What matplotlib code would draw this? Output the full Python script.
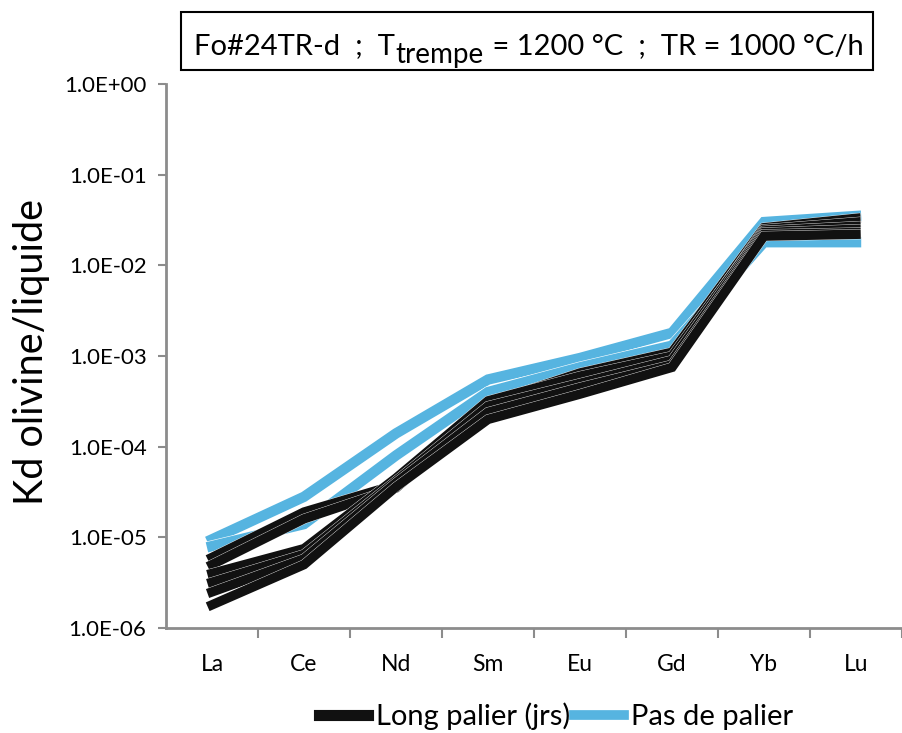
import matplotlib
matplotlib.use("Agg")
import matplotlib.pyplot as plt
import matplotlib.patheffects as pe
from matplotlib.lines import Line2D
from matplotlib.patches import Rectangle

plt.rcParams["font.family"] = ["Lato", "DejaVu Sans"]

# --- data ---
elements = ["La", "Ce", "Nd", "Sm", "Eu", "Gd", "Yb", "Lu"]
ytick_vals = [1e-6, 1e-5, 1e-4, 1e-3, 1e-2, 1e-1, 1e0]
ytick_labels = ["1.0E-06", "1.0E-05", "1.0E-04", "1.0E-03", "1.0E-02", "1.0E-01", "1.0E+00"]

# long palier (black)
long_1 = [6.0e-6, 1.9e-5, 3.8e-5, 3.0e-4, 6.5e-4, 1.1e-3, 2.6e-2, 3.3e-2]
long_2 = [5.0e-6, 1.6e-5, 3.5e-5, 2.6e-4, 5.5e-4, 9.5e-4, 2.5e-2, 3.0e-2]
long_3 = [4.0e-6, 7.5e-6, 4.5e-5, 3.2e-4, 6.0e-4, 1.0e-3, 2.4e-2, 2.7e-2]
long_4 = [3.2e-6, 6.5e-6, 4.2e-5, 2.8e-4, 5.0e-4, 9.0e-4, 2.3e-2, 2.5e-2]
long_5 = [2.5e-6, 5.8e-6, 4.0e-5, 2.4e-4, 4.5e-4, 8.0e-4, 2.2e-2, 2.3e-2]
long_6 = [1.8e-6, 5.0e-6, 3.6e-5, 2.0e-4, 3.8e-4, 7.5e-4, 2.1e-2, 2.2e-2]
# pas de palier (blue)
pas_1 = [9.5e-6, 2.8e-5, 1.4e-4, 5.5e-4, 9.5e-4, 1.8e-3, 3.0e-2, 3.5e-2]
pas_2 = [8.0e-6, 1.4e-5, 8.0e-5, 4.0e-4, 7.5e-4, 1.3e-3, 1.8e-2, 1.8e-2]

BLUE = "#56b4e0"
GREY = "#8c8c8c"

fig = plt.figure(figsize=(9.02, 7.33), dpi=100)
ax = fig.add_axes([166 / 902, 105 / 733, 736 / 902, 544 / 733])

x = list(range(len(elements)))
for ys in [pas_1, pas_2]:
    ax.plot(x, ys, color=BLUE, lw=7.5, solid_joinstyle="miter",
            path_effects=[pe.Stroke(linewidth=8.3, foreground="white"), pe.Normal()])
for ys in [long_1, long_2, long_3, long_4, long_5, long_6]:
    ax.plot(x, ys, color="#111111", lw=6.8, solid_joinstyle="miter",
            path_effects=[pe.Stroke(linewidth=7.3, foreground="white"), pe.Normal()])

ax.set_yscale("log")
ax.set_ylim(1e-6, 1)
ax.set_xlim(-0.5, -0.5 + 736 / 93)
ax.set_yticks(ytick_vals)
ax.set_yticklabels(ytick_labels)
ax.minorticks_off()
ax.set_xticks(x)
ax.set_xticklabels(elements)
ax.set_xticks([i + 0.5 for i in x], minor=True)
ax.tick_params(axis="x", which="major", length=0, pad=19, labelsize=16.5)
ax.tick_params(axis="x", which="minor", length=7, width=1.5, color=GREY, direction="out")
ax.tick_params(axis="y", length=6, width=1.5, color=GREY, pad=8, labelsize=16)

for s in ["top", "right"]:
    ax.spines[s].set_visible(False)
for s in ["left", "bottom"]:
    ax.spines[s].set_color(GREY)
    ax.spines[s].set_linewidth(2)

fig.text(32 / 902, (733 - 352) / 733, "Kd olivine/liquide", rotation=90,
         ha="center", va="center", fontsize=28.5)

# title box
fig.patches.append(Rectangle((181 / 902, (733 - 70) / 733), 692 / 902, 58 / 733,
                             transform=fig.transFigure, fill=False, ec="black", lw=1.5))
t1 = fig.text(194 / 902, (733 - 54) / 733, "Fo#24TR-d  ;  T", fontsize=21, va="baseline")
t2 = ax.annotate("trempe", xy=(1, 0), xycoords=t1, xytext=(1, -9),
                 textcoords="offset pixels", fontsize=20, va="bottom", ha="left",
                 annotation_clip=False)
t3 = ax.annotate(" = 1200 °C  ;  TR = 1000 °C/h", xy=(1, 0), xycoords=(t2, t1),
                 xytext=(1, 0), textcoords="offset pixels", fontsize=21,
                 va="bottom", ha="left", annotation_clip=False)

handles = [Line2D([], [], color="#111111", lw=8), Line2D([], [], color=BLUE, lw=7)]
fig.legend(handles, ["Long palier (jrs)", "Pas de palier"], loc="center",
           bbox_to_anchor=(556 / 902, (733 - 716) / 733), ncol=2, frameon=False,
           fontsize=21, handlelength=1.7, handletextpad=0.25, columnspacing=0.15)

fig.savefig("out.png", dpi=100)
